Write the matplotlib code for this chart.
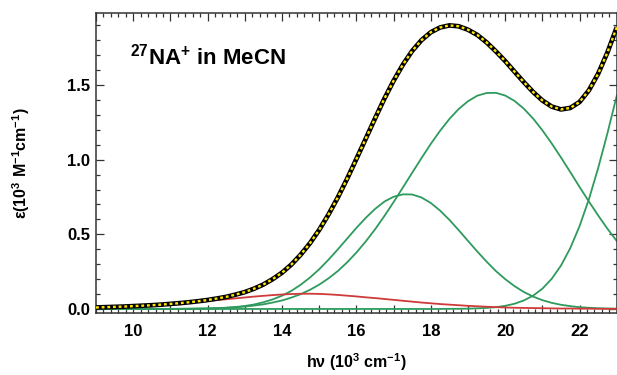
import matplotlib
matplotlib.use("Agg")
import matplotlib.pyplot as plt
from matplotlib.ticker import MultipleLocator, FuncFormatter
import numpy as np

# ---------------- data ----------------
energy = [9.00, 9.25, 9.50, 9.75, 10.00, 10.25, 10.50, 10.75, 11.00, 11.25, 11.50, 11.75,
          12.00, 12.25, 12.50, 12.75, 13.00, 13.25, 13.50, 13.75, 14.00, 14.25, 14.50, 14.75,
          15.00, 15.25, 15.50, 15.75, 16.00, 16.25, 16.50, 16.75, 17.00, 17.25, 17.50, 17.75,
          18.00, 18.25, 18.50, 18.75, 19.00, 19.25, 19.50, 19.75, 20.00, 20.25, 20.50, 20.75,
          21.00, 21.25, 21.50, 21.75, 22.00, 22.25, 22.50, 22.75, 23.00]

total = [0.010, 0.012, 0.014, 0.016, 0.019, 0.022, 0.025, 0.029, 0.034, 0.039, 0.045, 0.052,
         0.060, 0.070, 0.081, 0.096, 0.113, 0.136, 0.164, 0.200, 0.243, 0.297, 0.363, 0.440,
         0.530, 0.633, 0.747, 0.872, 1.005, 1.140, 1.276, 1.408, 1.529, 1.637, 1.729, 1.801,
         1.854, 1.886, 1.900, 1.894, 1.871, 1.836, 1.786, 1.726, 1.661, 1.590, 1.520, 1.454,
         1.397, 1.356, 1.337, 1.347, 1.387, 1.465, 1.577, 1.720, 1.888]

band_17 = [0.000, 0.000, 0.000, 0.000, 0.000, 0.000, 0.000, 0.000, 0.000, 0.001, 0.001, 0.002,
           0.003, 0.005, 0.008, 0.013, 0.020, 0.030, 0.045, 0.064, 0.089, 0.121, 0.162, 0.210,
           0.266, 0.330, 0.399, 0.471, 0.543, 0.610, 0.670, 0.719, 0.752, 0.768, 0.767, 0.747,
           0.710, 0.659, 0.597, 0.528, 0.456, 0.385, 0.317, 0.254, 0.200, 0.153, 0.114, 0.083,
           0.059, 0.041, 0.028, 0.019, 0.012, 0.008, 0.005, 0.003, 0.002]

band_20 = [0.000, 0.000, 0.000, 0.000, 0.000, 0.000, 0.000, 0.000, 0.001, 0.001, 0.002, 0.003,
           0.004, 0.006, 0.008, 0.012, 0.016, 0.023, 0.031, 0.043, 0.057, 0.076, 0.099, 0.128,
           0.163, 0.205, 0.254, 0.312, 0.378, 0.452, 0.533, 0.622, 0.716, 0.814, 0.913, 1.011,
           1.106, 1.194, 1.273, 1.340, 1.392, 1.429, 1.447, 1.448, 1.430, 1.394, 1.342, 1.276,
           1.197, 1.109, 1.015, 0.917, 0.817, 0.720, 0.626, 0.537, 0.455]

band_24 = [0.000, 0.000, 0.000, 0.000, 0.000, 0.000, 0.000, 0.000, 0.000, 0.000, 0.000, 0.000,
           0.000, 0.000, 0.000, 0.000, 0.000, 0.000, 0.000, 0.000, 0.000, 0.000, 0.000, 0.000,
           0.000, 0.000, 0.000, 0.000, 0.000, 0.000, 0.000, 0.000, 0.000, 0.000, 0.000, 0.000,
           0.000, 0.000, 0.001, 0.001, 0.002, 0.004, 0.007, 0.012, 0.021, 0.035, 0.057, 0.089,
           0.136, 0.202, 0.291, 0.408, 0.556, 0.735, 0.945, 1.179, 1.430]

band_ct = [0.010, 0.012, 0.014, 0.016, 0.019, 0.022, 0.025, 0.029, 0.033, 0.037, 0.042, 0.047,
           0.053, 0.059, 0.065, 0.071, 0.077, 0.083, 0.088, 0.093, 0.097, 0.100, 0.102, 0.102,
           0.101, 0.098, 0.094, 0.089, 0.084, 0.078, 0.073, 0.067, 0.061, 0.055, 0.049, 0.043,
           0.038, 0.033, 0.029, 0.025, 0.021, 0.018, 0.015, 0.012, 0.010, 0.008, 0.007, 0.006,
           0.005, 0.004, 0.003, 0.003, 0.002, 0.002, 0.001, 0.001, 0.001]

x_ticks_labelled = [10, 12, 14, 16, 18, 20, 22]
y_ticks = [0.0, 0.5, 1.0, 1.5]

# ---------------- styling ----------------
plt.rcParams['font.family'] = ['Liberation Sans', 'DejaVu Sans']
plt.rcParams['font.weight'] = 'bold'
plt.rcParams['mathtext.fontset'] = 'custom'
plt.rcParams['mathtext.rm'] = 'Liberation Sans:bold'
plt.rcParams['mathtext.bf'] = 'Liberation Sans:bold'
plt.rcParams['mathtext.default'] = 'rm'

GREEN = '#2e9a5c'
RED = '#d03a3a'
AXC = '#333333'

fig = plt.figure(figsize=(6.17, 3.75), dpi=100)
ax = fig.add_axes([96/617, 1 - 312.7/375, (616.8 - 96)/617, (312.7 - 13)/375])

x = np.array(energy)
ax.plot(x, band_24, color=GREEN, lw=1.3, zorder=2)
ax.plot(x, band_17, color=GREEN, lw=1.3, zorder=2)
ax.plot(x, band_20, color=GREEN, lw=1.3, zorder=2)
ax.plot(x, band_ct, color=RED, lw=1.3, zorder=3)
ax.plot(x, total, color='black', lw=3.4, zorder=4, solid_capstyle='butt')
ax.plot(x, total, color='#ffe600', lw=1.7, zorder=5, linestyle=(0, (1.2, 1.2)))

ax.set_xlim(9, 23)
ax.set_ylim(-0.025, 1.983)

ax.xaxis.set_major_locator(MultipleLocator(1))
ax.xaxis.set_minor_locator(MultipleLocator(0.2))
ax.xaxis.set_major_formatter(FuncFormatter(
    lambda v, p: f"{int(round(v))}" if int(round(v)) in x_ticks_labelled else ""))
ax.set_yticks(y_ticks)
ax.yaxis.set_minor_locator(MultipleLocator(0.1))
ax.yaxis.set_major_formatter(FuncFormatter(lambda v, p: f"{v:.1f}"))

ax.tick_params(which='both', direction='in', top=True, right=True,
               color=AXC, width=0.9)
ax.tick_params(which='major', length=6)
ax.tick_params(which='minor', length=3)
ax.tick_params(axis='x', which='major', pad=8, labelsize=12)
ax.tick_params(axis='y', which='major', pad=4, labelsize=12)
for lab in ax.get_xticklabels() + ax.get_yticklabels():
    lab.set_fontweight('bold')

for s in ax.spines.values():
    s.set_color(AXC)
    s.set_linewidth(1.1)

ax.set_xlabel("h\u03bd (10$^{3}$ cm$^{-1}$)", fontsize=11.5, fontweight='bold')
ax.xaxis.set_label_coords(0.5, -0.128)
ax.set_ylabel("\u03b5(10$^{3}$ M$^{-1}$cm$^{-1}$)", fontsize=11.5, fontweight='bold', va='center')
ax.yaxis.set_label_coords(-0.143, 0.5)

ax.text(0.0655, 0.8265, "$^{27}$NA$^{+}$ in MeCN", transform=ax.transAxes,
        fontsize=16, fontweight='bold', ha='left', va='baseline')

fig.savefig("out.png", dpi=100)
